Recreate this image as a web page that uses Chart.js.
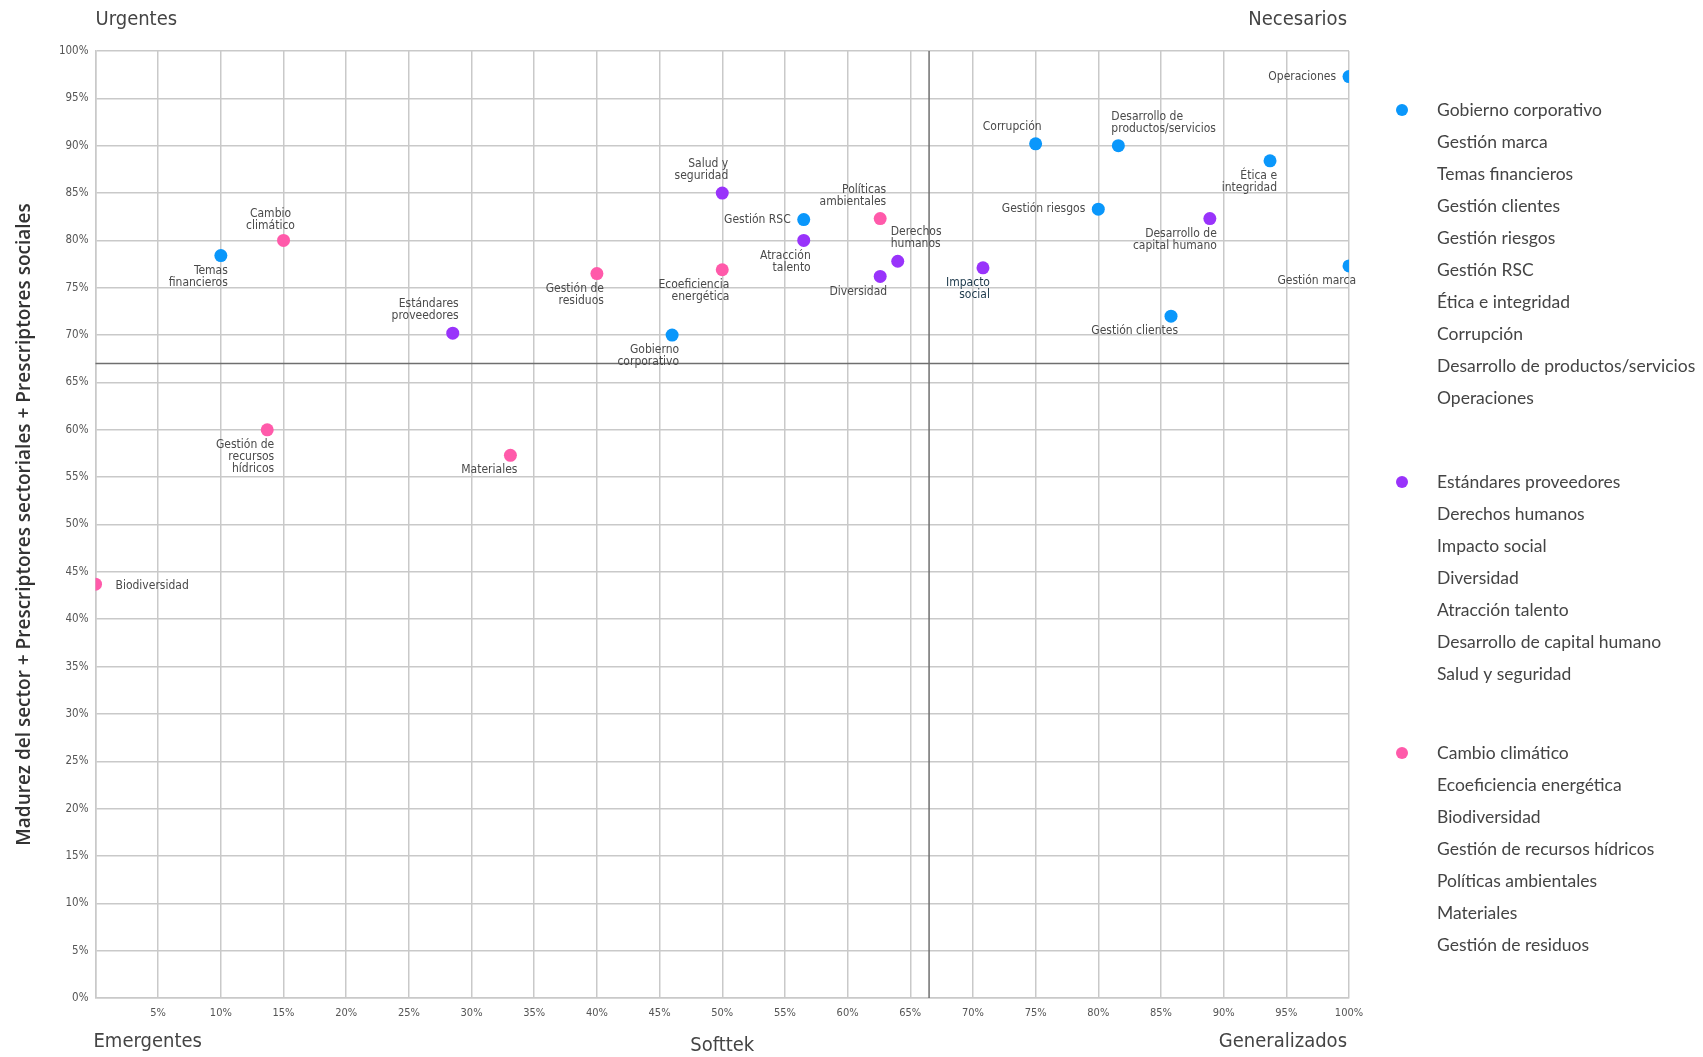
<!DOCTYPE html>
<html>
<head>
<meta charset="utf-8">
<script src="https://cdn.jsdelivr.net/npm/chart.js@4"></script>
<style>
  body { margin: 0; background: #fff; }
  #wrap { width: 1703px; height: 1057px; position: relative; }
</style>
</head>
<body>
<div id="wrap"><canvas id="chart"></canvas></div>
<script>
// --- data (x = Softtek %, y = madurez %) ---
const govNames = ['Gobierno corporativo', 'Gestión marca', 'Temas financieros', 'Gestión clientes', 'Gestión riesgos',
  'Gestión RSC', 'Ética e integridad', 'Corrupción', 'Desarrollo de productos/servicios', 'Operaciones'];
const govLabels = ['Gobierno\ncorporativo', 'Gestión marca', 'Temas\nfinancieros', 'Gestión clientes', 'Gestión riesgos',
  'Gestión RSC', 'Ética e\nintegridad', 'Corrupción', 'Desarrollo de\nproductos/servicios', 'Operaciones'];
const govX = [46, 100, 10, 85.8, 80, 56.5, 93.7, 75, 81.6, 100];
const govY = [70, 77.3, 78.4, 72, 83.3, 82.2, 88.4, 90.2, 90, 97.3];

const socNames = ['Estándares proveedores', 'Derechos humanos', 'Impacto social', 'Diversidad', 'Atracción talento',
  'Desarrollo de capital humano', 'Salud y seguridad'];
const socLabels = ['Estándares\nproveedores', 'Derechos\nhumanos', 'Impacto\nsocial', 'Diversidad', 'Atracción\ntalento',
  'Desarrollo de\ncapital humano', 'Salud y\nseguridad'];
const socX = [28.5, 64, 70.8, 62.6, 56.5, 88.9, 50];
const socY = [70.2, 77.8, 77.1, 76.2, 80, 82.3, 85];

const envNames = ['Cambio climático', 'Ecoeficiencia energética', 'Biodiversidad', 'Gestión de recursos hídricos',
  'Políticas ambientales', 'Materiales', 'Gestión de residuos'];
const envLabels = ['Cambio\nclimático', 'Ecoeficiencia\nenergética', 'Biodiversidad', 'Gestión de\nrecursos\nhídricos',
  'Políticas\nambientales', 'Materiales', 'Gestión de\nresiduos'];
const envX = [15, 50, 0, 13.7, 62.6, 33.1, 40];
const envY = [80, 76.9, 43.7, 60, 82.3, 57.3, 76.5];

// where each point label sits: bl = below-left, al = above-left, ar = above-right, ac = above centred, l = left, r = right
const govPlace = ['bl', 'bl', 'bl', 'bl', 'l', 'l', 'bl', 'al', 'ar', 'l'];
const socPlace = ['al', 'ar', 'bl', 'bl', 'bl', 'bl', 'al'];
const envPlace = ['ac', 'bl', 'r', 'bl', 'al', 'bl', 'bl'];

const quadX = 66.5;
const quadY = 67;
const cornerTexts = { tl: 'Urgentes', tr: 'Necesarios', bl: 'Emergentes', bc: 'Softtek', br: 'Generalizados' };
const yTitle = 'Madurez del sector + Prescriptores sectoriales + Prescriptores sociales';

const BLUE = '#0a97fb', PURPLE = '#9933fb', PINK = '#ff5aaa';
const NARROW = '"Liberation Sans Narrow", "DejaVu Sans Condensed", sans-serif';

const toPoints = (xs, ys) => xs.map((x, i) => ({ x, y: ys[i] }));

const groups = [
  { names: govNames, labels: govLabels, place: govPlace, color: BLUE, top: 110 },
  { names: socNames, labels: socLabels, place: socPlace, color: PURPLE, top: 482 },
  { names: envNames, labels: envLabels, place: envPlace, color: PINK, top: 753 }
];

// quadrant lines + corner captions
const quadrantPlugin = {
  id: 'quadrants',
  beforeDatasetsDraw(chart) {
    const { ctx, chartArea: a, scales: { x, y } } = chart;
    const px = x.getPixelForValue(quadX), py = y.getPixelForValue(quadY);
    ctx.save();
    ctx.strokeStyle = '#6f6f6f';
    ctx.lineWidth = 1.5;
    ctx.beginPath(); ctx.moveTo(px, a.top); ctx.lineTo(px, a.bottom); ctx.stroke();
    ctx.beginPath(); ctx.moveTo(a.left, py); ctx.lineTo(a.right, py); ctx.stroke();
    ctx.restore();
  },
  afterDraw(chart) {
    const { ctx, chartArea: a } = chart;
    ctx.save();
    ctx.fillStyle = '#444';
    ctx.font = '20px ' + NARROW;
    ctx.textBaseline = 'middle';
    ctx.textAlign = 'left';
    ctx.fillText(cornerTexts.tl, a.left, 20);
    ctx.fillText(cornerTexts.bl, a.left - 2, 1042);
    ctx.textAlign = 'right';
    ctx.fillText(cornerTexts.tr, a.right - 2, 20);
    ctx.fillText(cornerTexts.br, a.right - 2, 1042);
    ctx.textAlign = 'center';
    ctx.fillText(cornerTexts.bc, (a.left + a.right) / 2, 1046);
    ctx.restore();
  }
};

// text next to each point
const pointLabelPlugin = {
  id: 'pointLabels',
  afterDatasetsDraw(chart) {
    const { ctx } = chart;
    ctx.save();
    ctx.font = '12px ' + NARROW;
    ctx.textBaseline = 'middle';
    const lh = 12;
    chart.data.datasets.forEach((ds, di) => {
      const g = groups[di];
      chart.getDatasetMeta(di).data.forEach((pt, i) => {
        const lines = g.labels[i].split('\n');
        ctx.fillStyle = g.names[i] === 'Impacto social' ? '#1e3a4c' : '#4a4a4a';
        let tx = pt.x, ty;
        const place = g.place[i];
        if (place === 'bl') { ctx.textAlign = 'right'; tx += 7; ty = pt.y + 15; }
        else if (place === 'al') { ctx.textAlign = 'right'; tx += 6; ty = pt.y - 17 - (lines.length - 1) * lh; }
        else if (place === 'ac') { ctx.textAlign = 'center'; tx -= 13; ty = pt.y - 15 - (lines.length - 1) * lh; }
        else if (place === 'ar') { ctx.textAlign = 'left'; tx -= 7; ty = pt.y - 17 - (lines.length - 1) * lh; }
        else if (place === 'l') { ctx.textAlign = 'right'; tx -= 13; ty = pt.y; }
        else { ctx.textAlign = 'left'; tx += 20; ty = pt.y + 2; }
        lines.forEach((ln, k) => ctx.fillText(ln, tx, ty + k * lh));
      });
    });
    ctx.restore();
  }
};

// legend on the right: one dot per group, then every topic
const sideLegendPlugin = {
  id: 'sideLegend',
  afterDraw(chart) {
    const { ctx, chartArea: a } = chart;
    ctx.save();
    ctx.font = '17.5px Lato, sans-serif';
    ctx.textBaseline = 'middle';
    ctx.textAlign = 'left';
    groups.forEach(g => {
      ctx.fillStyle = g.color;
      ctx.beginPath(); ctx.arc(a.right + 53, g.top, 6, 0, Math.PI * 2); ctx.fill();
      ctx.fillStyle = '#444';
      g.names.forEach((n, i) => {
        ctx.fillText(n, a.right + 88, g.top + i * 32);
      });
    });
    ctx.restore();
  }
};

new Chart(document.getElementById('chart'), {
  type: 'scatter',
  data: {
    datasets: [
      { label: govNames[0], data: toPoints(govX, govY), backgroundColor: BLUE },
      { label: socNames[0], data: toPoints(socX, socY), backgroundColor: PURPLE },
      { label: envNames[0], data: toPoints(envX, envY), backgroundColor: PINK }
    ]
  },
  options: {
    responsive: true,
    maintainAspectRatio: false,
    animation: false,
    layout: { padding: { top: 51, right: 354, bottom: 0, left: 0 } },
    elements: { point: { radius: 6.5, borderWidth: 0, hoverRadius: 7 } },
    plugins: { legend: { display: false }, tooltip: { enabled: false } },
    scales: {
      x: {
        type: 'linear', min: 0, max: 100,
        afterFit: s => { s.height = 59; },
        grid: { color: '#c9c9c9', lineWidth: 1.5, drawTicks: false },
        border: { color: '#c9c9c9', width: 1.5 },
        ticks: {
          stepSize: 5, padding: 9, color: '#555', maxRotation: 0, autoSkip: false,
          font: { family: NARROW, size: 11 },
          callback: v => (v === 0 ? '' : v + '%')
        }
      },
      y: {
        type: 'linear', min: 0, max: 100,
        afterFit: s => { s.width = 95.5; },
        grid: { color: '#c9c9c9', lineWidth: 1.5, drawTicks: false },
        border: { color: '#c9c9c9', width: 1.5 },
        ticks: {
          stepSize: 5, padding: 7, color: '#555', autoSkip: false,
          font: { family: NARROW, size: 11.5 },
          callback: v => v + '%'
        },
        title: {
          display: true, text: yTitle, color: '#333',
          font: { family: '"Open Sans", sans-serif', size: 19, weight: '600' },
          padding: { top: 13, bottom: 0 }
        }
      }
    }
  },
  plugins: [quadrantPlugin, pointLabelPlugin, sideLegendPlugin]
});
</script>
</body>
</html>
